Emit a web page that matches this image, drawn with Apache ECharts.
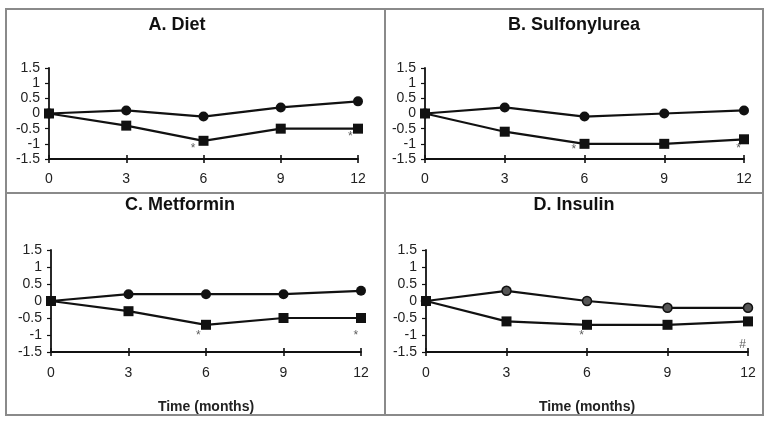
<!DOCTYPE html>
<html>
<head>
<meta charset="utf-8">
<script src="https://cdn.jsdelivr.net/npm/echarts@6/dist/echarts.min.js"></script>
<style>html,body{margin:0;padding:0;background:#fff;}#c{width:772px;height:437px;}</style>
</head>
<body>
<div id="c"></div>
<script>
var months = [0, 3, 6, 9, 12];
var panelTitles = ['A. Diet', 'B. Sulfonylurea', 'C. Metformin', 'D. Insulin'];
var xAxisName = 'Time (months)';
var yTicks = [-1.5, -1, -0.5, 0, 0.5, 1, 1.5];

var dietCircle = [0, 0.1, -0.1, 0.2, 0.4];
var dietSquare = [0, -0.4, -0.9, -0.5, -0.5];
var sulfCircle = [0, 0.2, -0.1, 0, 0.1];
var sulfSquare = [0, -0.6, -1.0, -1.0, -0.85];
var metCircle = [0, 0.2, 0.2, 0.2, 0.3];
var metSquare = [0, -0.3, -0.7, -0.5, -0.5];
var insCircle = [0, 0.3, 0, -0.2, -0.2];
var insSquare = [0, -0.6, -0.7, -0.7, -0.6];

var dietMarks = [[5.6, -1.07, '*'], [11.7, -0.66, '*']];
var sulfMarks = [[5.6, -1.1, '*'], [11.8, -1.07, '*']];
var metMarks = [[5.7, -0.93, '*'], [11.8, -0.93, '*']];
var insMarks = [[5.8, -0.93, '*'], [11.8, -1.21, '#']];

var circles = [dietCircle, sulfCircle, metCircle, insCircle];
var squares = [dietSquare, sulfSquare, metSquare, insSquare];
var marks = [dietMarks, sulfMarks, metMarks, insMarks];

var grids = [
  {left: 49, top: 68, width: 309, height: 91},
  {left: 425, top: 68, width: 319, height: 91},
  {left: 51, top: 250, width: 310, height: 102},
  {left: 426, top: 250, width: 322, height: 102}
];
var titlePos = [[177, 25], [574, 25], [180, 205], [574, 205]];

var font = 'Liberation Sans, Arial, sans-serif';
var xAxes = [], yAxes = [], series = [], graphics = [];

function pairs(vals) { return months.map(function (m, i) { return [m, vals[i]]; }); }

for (var p = 0; p < 4; p++) {
  var bottom = p >= 2;
  xAxes.push({
    type: 'value', gridIndex: p, min: 0, max: 12, interval: 3,
    axisLine: {onZero: false, lineStyle: {color: '#111', width: 1.8}},
    axisTick: {show: true, inside: true, length: 4, lineStyle: {color: '#111', width: 1.6}},
    axisLabel: {color: '#222', fontFamily: font, fontSize: 14, margin: bottom ? 14 : 13},
    splitLine: {show: false},
    name: bottom ? xAxisName : '', nameLocation: 'middle', nameGap: 48,
    nameTextStyle: {fontFamily: font, fontWeight: 'bold', fontSize: 14, color: '#222'}
  });
  xAxes.push({
    type: 'value', gridIndex: p, min: 0, max: 12, interval: 3, position: 'bottom',
    axisLine: {show: false, onZero: false},
    axisTick: {show: true, inside: false, length: 4, lineStyle: {color: '#111', width: 1.6}},
    axisLabel: {show: false}, splitLine: {show: false}
  });
  yAxes.push({
    type: 'value', gridIndex: p, min: -1.5, max: 1.5, interval: 0.5,
    axisLine: {show: true, lineStyle: {color: '#111', width: 1.8}},
    axisTick: {show: true, length: 4, lineStyle: {color: '#111', width: 1.2}},
    axisLabel: {color: '#222', fontFamily: font, fontSize: 14, margin: 9},
    splitLine: {show: false}
  });
  series.push({
    type: 'line', xAxisIndex: 2 * p, yAxisIndex: p, data: pairs(circles[p]),
    symbol: 'circle', symbolSize: p === 3 ? 9 : 10, z: 3,
    lineStyle: {color: '#111', width: 2.2},
    itemStyle: {color: p === 3 ? '#555' : '#111', borderColor: '#111', borderWidth: p === 3 ? 1.5 : 0}
  });
  series.push({
    type: 'line', xAxisIndex: 2 * p, yAxisIndex: p, data: pairs(squares[p]),
    symbol: 'rect', symbolSize: 10, z: 4,
    lineStyle: {color: '#111', width: 2.2},
    itemStyle: {color: '#111'}
  });
  series.push({
    type: 'scatter', xAxisIndex: 2 * p, yAxisIndex: p, data: marks[p],
    symbol: 'circle', symbolSize: 0.1, itemStyle: {color: 'rgba(0,0,0,0)'},
    label: {show: true, position: 'inside', formatter: function (pr) { return pr.value[2]; },
      color: '#333', fontFamily: font, fontSize: 12, offset: [0, 3]},
    silent: true
  });
  graphics.push({
    type: 'text', x: titlePos[p][0], y: titlePos[p][1],
    style: {text: panelTitles[p], fontFamily: font, fontWeight: 'bold', fontSize: 18,
      fill: '#111', textAlign: 'center', textVerticalAlign: 'middle'}
  });
}

var frame = {stroke: '#8a8a8a', lineWidth: 2, fill: null};
graphics.push({type: 'rect', shape: {x: 6, y: 9, width: 757, height: 406}, style: frame, z: 0});
graphics.push({type: 'line', shape: {x1: 6, y1: 193, x2: 763, y2: 193}, style: frame, z: 0});
graphics.push({type: 'line', shape: {x1: 385, y1: 9, x2: 385, y2: 415}, style: frame, z: 0});

var chart = echarts.init(document.getElementById('c'));
chart.setOption({
  animation: false,
  backgroundColor: '#fff',
  grid: grids,
  xAxis: xAxes,
  yAxis: yAxes,
  series: series,
  graphic: graphics
});
</script>
</body>
</html>
